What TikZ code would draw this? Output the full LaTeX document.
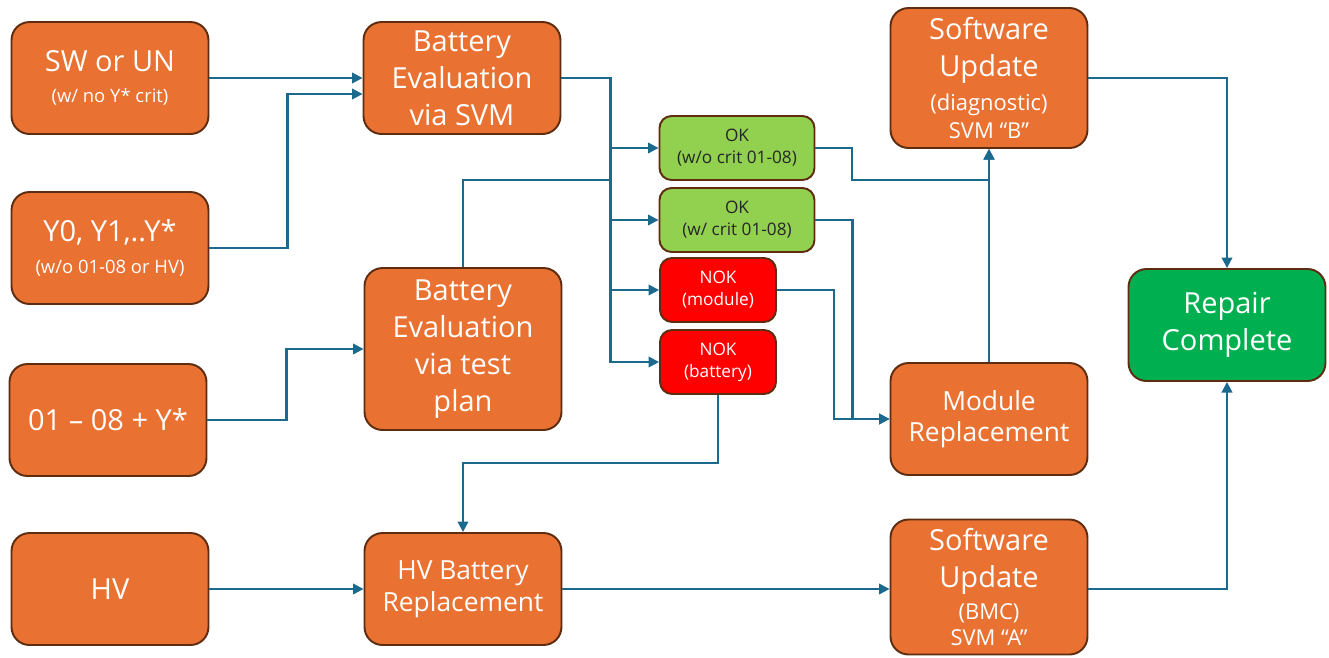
\documentclass[tikz,border=0pt]{standalone}
\usepackage{fontspec}
\setmainfont{Open Sans}
\usepackage{xcolor}
\usepackage{tikz}
\usetikzlibrary{arrows.meta,calc,positioning}
\definecolor{boxorange}{HTML}{E97132}
\definecolor{boxedge}{HTML}{5E2C10}
\definecolor{okgreen}{HTML}{92D050}
\definecolor{nokred}{HTML}{FF0000}
\definecolor{donegreen}{HTML}{00B050}
\definecolor{wirecol}{HTML}{1B6A8D}
\newcommand{\subtxt}[1]{{\fontsize{10.5}{12}\selectfont #1}}
\newcommand{\midtxt}[1]{{\fontsize{12.5}{15}\selectfont #1}}
\tikzset{
  block/.style={draw=boxedge, fill=boxorange, line width=1.1pt, rounded corners=0.36cm,
    text=white, align=center, minimum width=3.94cm, minimum height=2.24cm, inner sep=1pt,
    font=\fontsize{16.5}{21}\selectfont},
  okbox/.style={block, fill=okgreen, text=black!85, minimum width=3.1cm, minimum height=1.28cm,
    rounded corners=0.24cm, font=\fontsize{9.8}{12.5}\selectfont},
  nokbox/.style={okbox, fill=nokred, text=white, minimum width=2.32cm},
  donebox/.style={block, fill=donegreen},
  wire/.style={draw=wirecol, line width=1.2pt},
  link/.style={wire, -{Triangle[length=6pt,width=6pt]}},
}

\begin{document}
\begin{tikzpicture}[x=0.02cm, y=-0.02cm]
		\useasboundingbox (0,0) rectangle (1329,657);
		% inputs
		\node[block] (sw) at (110,78) {SW or UN\\[-3pt]\subtxt{(w/ no Y* crit)}};
		\node[block] (yy) at (110,248) {Y0, Y1,..Y*\\[-3pt]\subtxt{(w/o 01-08 or HV)}};
		\node[block] (plus) at (108,420) {01 – 08 + Y*};
		\node[block] (hv) at (110,589) {HV};
		% evaluation
		\node[block] (evalsvm) at (462,78) {Battery\\Evaluation\\via SVM};
		\node[block, minimum height=3.24cm] (evaltp) at (463,349) {Battery\\Evaluation\\via test\\plan};
		\node[block, font=\fontsize{15}{18}\selectfont] (hvrep) at (463,589) {HV Battery\\Replacement};
		% results
		\node[okbox] (okplain) at (737,148) {OK\\(w/o crit 01-08)};
		\node[okbox] (okcrit) at (737,220) {OK\\(w/ crit 01-08)};
		\node[nokbox] (nokmod) at (718,290) {NOK\\(module)};
		\node[nokbox] (nokbat) at (718,362) {NOK\\(battery)};
		% repair
		\node[block, minimum height=2.8cm] (swb) at (989,78) {Software\\Update\\[-2pt]\midtxt{(diagnostic)}\\[-5pt]\midtxt{SVM “B”}};
		\node[block, font=\fontsize{15}{18}\selectfont] (modrep) at (989,419) {Module\\Replacement};
		\node[block, minimum height=2.7cm] (swa) at (989,587) {Software\\Update\\[-3pt]\midtxt{(BMC)}\\[-6pt]\midtxt{SVM “A”}};
		\node[donebox] (done) at (1227,325) {Repair\\Complete};
		\coordinate (busjoin) at (611,180);

		\draw[link] (sw) -- (evalsvm);
		\draw[link] (yy.east) -- ++(78,0) |- ([yshift=-0.32cm]evalsvm.west);
		\draw[link] (plus.east) -- ++(79,0) |- (evaltp.west);
		\draw[link] (evalsvm.east) -- ++(49,0) |- (okplain.west);
		\draw[link] (evalsvm.east) -- ++(49,0) |- (okcrit.west);
		\draw[link] (evalsvm.east) -- ++(49,0) |- (nokmod.west);
		\draw[link] (evalsvm.east) -- ++(49,0) |- (nokbat.west);
		\draw[wire] (evaltp.north) |- (busjoin);
		\draw[link] (okplain.east) -| (852,180) -| (swb.south);
		\draw[link] (modrep) -- (swb);
		\draw[link] (okcrit.east) -- ++(37,0) |- (modrep.west);
		\draw[link] (nokmod.east) -- ++(57,0) |- (modrep.west);
		\draw[link] (nokbat.south) -- ++(0,68) -| (hvrep.north);
		\draw[link] (hv) -- (hvrep);
		\draw[link] (hvrep.east) -- (swa.west |- hvrep.east);
		\draw[link] (swa.east |- hvrep.east) -| (done.south);
		\draw[link] (swb.east) -| (done.north);
\end{tikzpicture}
\end{document}
